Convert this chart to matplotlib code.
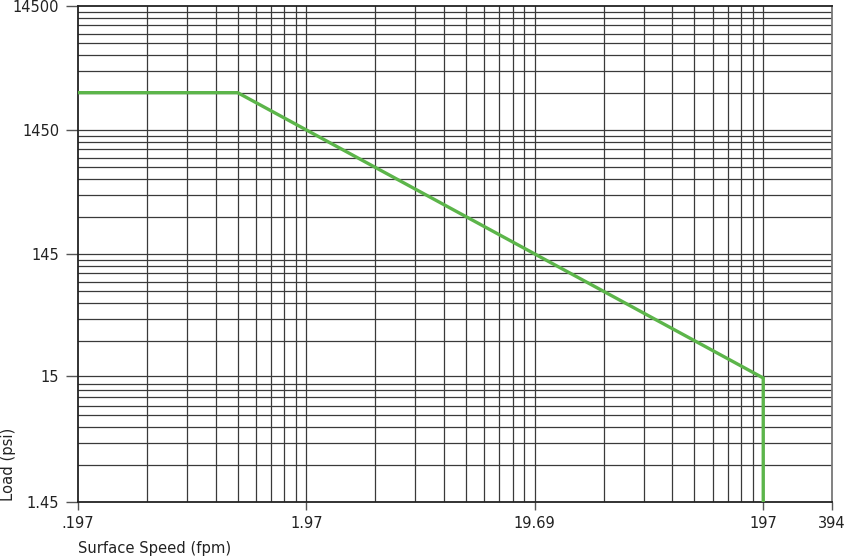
import matplotlib
matplotlib.use("Agg")
import matplotlib.pyplot as plt
from matplotlib.ticker import FixedLocator, NullFormatter

plt.rcParams['font.family'] = ['DejaVu Sans']

# Data
speed = [0.197, 0.985, 197, 197]          # fpm
load = [2900, 2900, 14.5, 1.45]           # psi
x_ticks = [0.197, 1.97, 19.69, 197, 394]
x_tick_labels = ['.197', '1.97', '19.69', '197', '394']
y_ticks = [1.45, 15, 145, 1450, 14500]
y_tick_labels = ['1.45', '15', '145', '1450', '14500']
x_decades = [0.197, 1.97, 19.69]
y_decades = [1.45, 14.5, 145, 1450]

fig = plt.figure(figsize=(8.6, 5.57), dpi=100)
ax = fig.add_axes([78/860, 1-502/557, (832-78)/860, (502-6)/557])
ax.set_xscale('log')
ax.set_yscale('log')
ax.set_xlim(0.197, 394)
ax.set_ylim(1.45, 14500)

x_minor = [d * k for d in x_decades for k in range(2, 10)]
y_minor = [d * k for d in y_decades for k in range(2, 10)]

grid_col = '#3a3a3a'
for v in x_minor + [1.97, 19.69, 197]:
    ax.axvline(v, color=grid_col, lw=0.9, zorder=1)
for v in y_minor + [15, 145, 1450]:
    ax.axhline(v, color=grid_col, lw=0.9, zorder=1)

ax.plot(speed, load, color='#5cb54a', lw=2.4, zorder=3, solid_joinstyle='miter')

ax.xaxis.set_major_locator(FixedLocator(x_ticks))
ax.xaxis.set_minor_locator(FixedLocator([]))
ax.set_xticklabels(x_tick_labels)
ax.xaxis.set_minor_formatter(NullFormatter())
ax.yaxis.set_major_locator(FixedLocator(y_ticks))
ax.yaxis.set_minor_locator(FixedLocator([]))
ax.set_yticklabels(y_tick_labels)
ax.yaxis.set_minor_formatter(NullFormatter())

ax.tick_params(axis='x', which='major', direction='out', length=6, width=1.0,
               color='#555555', labelsize=10.5, labelcolor='#222222', pad=4)
ax.tick_params(axis='y', which='major', direction='out', length=8.5, width=1.0,
               color='#555555', labelsize=10.5, labelcolor='#222222', pad=5)

for s in ax.spines.values():
    s.set_color('#222222')
    s.set_linewidth(1.3)
ax.spines['right'].set_color('#777777')

fig.text(78/860, 1-548/557, 'Surface Speed (fpm)', ha='left', va='center',
         fontsize=10.6, color='#222222')
fig.text(9/860, 1-501/557, 'Load (psi)', rotation=90, ha='center', va='bottom',
         fontsize=10.6, color='#222222')

fig.savefig('out.png', dpi=100)
